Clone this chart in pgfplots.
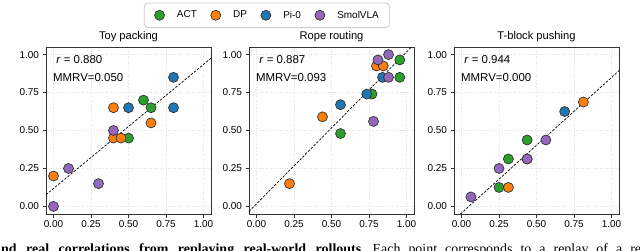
\documentclass[border=0pt]{standalone}
\usepackage{pgfplots}
\pgfplotsset{compat=1.18}
\usepackage{fontspec}
\newfontfamily\hv{Liberation Sans}
\newfontfamily\tms{Liberation Serif}
\definecolor{cACT}{HTML}{2CA02C}
\definecolor{cDP}{HTML}{FF7F0E}
\definecolor{cPI}{HTML}{1F77B4}
\definecolor{cSV}{HTML}{9467BD}
\definecolor{edge}{HTML}{333333}
\tikzset{ann/.style={font=\hv\fontsize{11.5}{13}\selectfont, anchor=base west, inner sep=0pt}}
\pgfplotsset{
  panel/.style={
    scale only axis, width=165bp, height=167bp, anchor=south west,
    xmin=-0.05, xmax=1.05, ymin=-0.05, ymax=1.05,
    xtick={0,0.25,0.5,0.75,1}, ytick={0,0.25,0.5,0.75,1},
    xticklabels={0.00,0.25,0.50,0.75,1.00},
    yticklabels={0.00,0.25,0.50,0.75,1.00},
    /pgf/number format/assume math mode=true,
    tick label style={font=\hv\fontsize{10}{12}\selectfont},
    grid=major, major grid style={black!12, dotted, line width=0.6bp},
    tick align=outside, tick pos=left, major tick length=3.5bp,
    axis line style={edge, line width=0.8bp},
    every tick/.style={edge, line width=0.8bp},
    every axis title/.style={font=\hv\fontsize{11.2}{13}\selectfont, at={(0.5,1)}, anchor=base, yshift=7.8bp, inner sep=0pt},
    clip=false,
  },
  pts/.style={only marks, mark=*, mark size=5bp, mark options={fill=#1, draw=edge, line width=0.7bp}},
  fit/.style={black, dashed, line width=0.7bp, dash pattern=on 2.5bp off 1.5bp},
}
\begin{document}
\begin{tikzpicture}[x=1bp,y=1bp]
\path[use as bounding box] (0,0) rectangle (640,250);
\clip (0,0) rectangle (640,250);

% Panel 1
\begin{axis}[panel, at={(46bp,36bp)}, title={Toy packing}]
\addplot[fit] coordinates {(-0.05,0.077) (1.05,0.976)};
\addplot[pts=cACT] coordinates {(0.6,0.7) (0.65,0.65) (0.5,0.45)};
\addplot[pts=cDP] coordinates {(0.4,0.65) (0.65,0.55) (0.4,0.45) (0.45,0.45) (0,0.2)};
\addplot[pts=cPI] coordinates {(0.8,0.85) (0.5,0.65) (0.8,0.65)};
\addplot[pts=cSV] coordinates {(0.4,0.5) (0.1,0.25) (0.3,0.15) (0,0)};
\node[ann] at (axis description cs:0.062,0.90) {\textit{r} = 0.880};
\node[ann] at (axis description cs:0.042,0.795) {MMRV=0.050};
\end{axis}

% Panel 2
\begin{axis}[panel, at={(249bp,36bp)}, title={Rope routing},
  legend columns=4,
  legend style={at={(0.109,1.19)}, anchor=center, draw=black!20, line width=0.8bp,
    rounded corners=4bp, font=\hv\fontsize{10}{12}\selectfont,
    inner xsep=9bp, inner ysep=6bp,
    /tikz/every even column/.append style={column sep=10.5bp}},
  legend image code/.code={\draw[mark repeat=2,mark phase=2,#1] plot coordinates {(0bp,0bp) (0bp,0bp) (0bp,0bp)}; \path (-6bp,0bp) (15bp,0bp);},
]
\addplot[fit, forget plot] coordinates {(-0.05,-0.033) (1.033,1.05)};
\addplot[pts=cACT] coordinates {(0.56,0.48) (0.77,0.74) (0.955,0.965) (0.955,0.85)};
\addlegendentry{ACT}
\addplot[pts=cDP] coordinates {(0.22,0.15) (0.44,0.59) (0.80,0.925) (0.845,0.925)};
\addlegendentry{DP}
\addplot[pts=cPI] coordinates {(0.56,0.67) (0.735,0.74) (0.84,0.85)};
\addlegendentry{Pi-0}
\addplot[pts=cSV] coordinates {(0.78,0.56) (0.88,1.0) (0.81,0.965) (0.88,0.85)};
\addlegendentry{SmolVLA}
\node[ann] at (axis description cs:0.062,0.90) {\textit{r} = 0.887};
\node[ann] at (axis description cs:0.042,0.795) {MMRV=0.093};
\end{axis}

% Panel 3
\begin{axis}[panel, at={(454bp,36bp)}, title={T-block pushing}]
\addplot[fit] coordinates {(-0.007,-0.05) (1.05,0.894)};
\addplot[pts=cACT] coordinates {(0.25,0.125) (0.3125,0.3125) (0.4375,0.4375) (0.4375,0.3125)};
\addplot[pts=cDP] coordinates {(0.3125,0.125) (0.8125,0.6875)};
\addplot[pts=cPI] coordinates {(0.6875,0.625)};
\addplot[pts=cSV] coordinates {(0.0625,0.0625) (0.25,0.25) (0.4375,0.3125) (0.5625,0.4375)};
\node[ann] at (axis description cs:0.062,0.90) {\textit{r} = 0.944};
\node[ann] at (axis description cs:0.042,0.795) {MMRV=0.000};
\end{axis}

\node[anchor=base west, inner sep=0pt, font=\tms\fontsize{14}{16}\selectfont] at (1,-3.5)
  {{\bfseries\spaceskip=9.5bp nd real correlations from replaying real-world rollouts}.{\spaceskip=8bp\ Each point corresponds to a replay of a real-world rollout}};
\end{tikzpicture}
\end{document}
